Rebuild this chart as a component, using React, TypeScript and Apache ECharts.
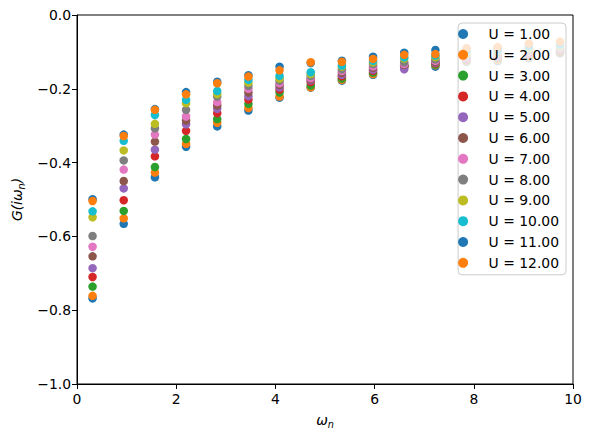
import React, { useEffect, useRef } from "react";
import * as echarts from "echarts";

const omegaN = [0.314, 0.942, 1.571, 2.199, 2.827, 3.456, 4.084, 4.712, 5.341, 5.969, 6.597, 7.226, 7.854, 8.482, 9.111, 9.739];

const seriesNames = ["U = 1.00", "U = 2.00", "U = 3.00", "U = 4.00", "U = 5.00", "U = 6.00", "U = 7.00", "U = 8.00", "U = 9.00", "U = 10.00", "U = 11.00", "U = 12.00"];

const gU1 = [-0.768, -0.566, -0.440, -0.357, -0.302, -0.259, -0.224, -0.197, -0.178, -0.162, -0.140, -0.140, -0.127, -0.125, -0.117, -0.104];
const gU2 = [-0.761, -0.551, -0.427, -0.349, -0.292, -0.252, -0.221, -0.196, -0.176, -0.160, -0.141, -0.136, -0.125, -0.122, -0.114, -0.102];
const gU3 = [-0.736, -0.531, -0.412, -0.336, -0.282, -0.241, -0.210, -0.191, -0.172, -0.156, -0.138, -0.134, -0.123, -0.118, -0.111, -0.100];
const gU4 = [-0.710, -0.502, -0.383, -0.314, -0.266, -0.229, -0.202, -0.182, -0.166, -0.151, -0.139, -0.131, -0.121, -0.115, -0.108, -0.098];
const gU5 = [-0.686, -0.470, -0.365, -0.296, -0.254, -0.220, -0.196, -0.177, -0.162, -0.148, -0.147, -0.129, -0.118, -0.112, -0.105, -0.095];
const gU6 = [-0.654, -0.450, -0.343, -0.286, -0.245, -0.210, -0.190, -0.174, -0.157, -0.143, -0.135, -0.127, -0.115, -0.108, -0.102, -0.093];
const gU7 = [-0.628, -0.419, -0.324, -0.275, -0.236, -0.200, -0.185, -0.171, -0.152, -0.139, -0.133, -0.124, -0.113, -0.105, -0.099, -0.090];
const gU8 = [-0.599, -0.394, -0.307, -0.257, -0.221, -0.192, -0.178, -0.165, -0.147, -0.133, -0.128, -0.120, -0.110, -0.102, -0.095, -0.087];
const gU9 = [-0.548, -0.367, -0.295, -0.239, -0.214, -0.183, -0.172, -0.160, -0.140, -0.128, -0.118, -0.114, -0.105, -0.098, -0.090, -0.084];
const gU10 = [-0.532, -0.341, -0.271, -0.230, -0.206, -0.176, -0.165, -0.155, -0.137, -0.124, -0.115, -0.110, -0.100, -0.095, -0.085, -0.080];
const gU11 = [-0.499, -0.324, -0.255, -0.209, -0.181, -0.163, -0.140, -0.130, -0.124, -0.113, -0.102, -0.095, -0.092, -0.090, -0.080, -0.075];
const gU12 = [-0.504, -0.328, -0.257, -0.215, -0.185, -0.167, -0.150, -0.128, -0.127, -0.119, -0.108, -0.106, -0.090, -0.087, -0.077, -0.072];

const allSeries = [gU1, gU2, gU3, gU4, gU5, gU6, gU7, gU8, gU9, gU10, gU11, gU12];

const xTicks = [0, 2, 4, 6, 8, 10];
const yTicks = [0, -0.2, -0.4, -0.6, -0.8, -1.0];

const palette = ["#1f77b4", "#ff7f0e", "#2ca02c", "#d62728", "#9467bd", "#8c564b", "#e377c2", "#7f7f7f", "#bcbd22", "#17becf", "#1f77b4", "#ff7f0e"];

const FONT = "DejaVu Sans";

export default function App() {
  const ref = useRef<HTMLDivElement>(null);
  useEffect(() => {
    if (!ref.current) return;
    const chart = echarts.init(ref.current, undefined, { renderer: "svg" });
    const option: any = {
      animation: false,
      color: palette,
      textStyle: { fontFamily: FONT },
      grid: {
        left: 77,
        right: 18,
        top: 15,
        bottom: 54,
        show: true,
        borderColor: "#000",
        borderWidth: 1,
        backgroundColor: "transparent",
      },
      xAxis: {
        type: "value",
        min: xTicks[0],
        max: xTicks[xTicks.length - 1],
        interval: 2,
        splitLine: { show: false },
        axisLine: { show: true, onZero: false, lineStyle: { color: "#000", width: 1 } },
        axisTick: { show: true, length: 5, lineStyle: { color: "#000" } },
        axisLabel: { color: "#000", fontSize: 13.9, fontFamily: FONT, margin: 8 },
        name: "{a|ω}{s|n}",
        nameLocation: "middle",
        nameGap: 27,
        nameTextStyle: {
          rich: {
            a: { fontStyle: "italic", fontSize: 13.9, fontFamily: FONT, color: "#000", lineHeight: 18 },
            s: { fontStyle: "italic", fontSize: 9.7, fontFamily: FONT, color: "#000", lineHeight: 18, padding: [8, 0, 0, 0] },
          },
        },
      },
      yAxis: {
        type: "value",
        min: yTicks[yTicks.length - 1],
        max: yTicks[0],
        interval: 0.2,
        splitLine: { show: false },
        axisLine: { show: true, onZero: false, lineStyle: { color: "#000", width: 1 } },
        axisTick: { show: true, length: 5, lineStyle: { color: "#000" } },
        axisLabel: {
          color: "#000",
          fontSize: 13.9,
          fontFamily: FONT,
          margin: 6,
          formatter: (v: number) => {
            const s = Math.abs(v).toFixed(1);
            return v < -1e-9 ? "\u2212" + s : s;
          },
        },
        name: "{a|G(iω}{s|n}{a|)}",
        nameLocation: "middle",
        nameRotate: 90,
        nameGap: 50,
        nameTextStyle: {
          rich: {
            a: { fontStyle: "italic", fontSize: 13.9, fontFamily: FONT, color: "#000", lineHeight: 18 },
            s: { fontStyle: "italic", fontSize: 9.7, fontFamily: FONT, color: "#000", lineHeight: 18, padding: [8, 0, 0, 0] },
          },
        },
      },
      legend: {
        orient: "vertical",
        right: 25,
        top: 23,
        z: 100,
        data: seriesNames,
        backgroundColor: "rgba(255,255,255,0.8)",
        borderColor: "#cccccc",
        borderWidth: 1,
        borderRadius: 4,
        padding: [4, 7, 5, 0],
        itemWidth: 41,
        itemHeight: 10,
        itemGap: 6.8,
        icon: "circle",
        align: "left",
        textStyle: { fontSize: 13.9, fontFamily: FONT, color: "#000", lineHeight: 14 },
        selectedMode: false,
      },
      series: allSeries.map((vals, i) => ({
        name: seriesNames[i],
        type: "scatter",
        symbol: "circle",
        symbolSize: 8.5,
        itemStyle: { color: palette[i], opacity: 1 },
        data: omegaN.map((x, j) => [x, vals[j]]),
        z: 2,
      })),
    };
    chart.setOption(option);
    return () => chart.dispose();
  }, []);
  return <div ref={ref} style={{ width: 591, height: 438, position: "absolute", left: 0, top: 0 }} />;
}
